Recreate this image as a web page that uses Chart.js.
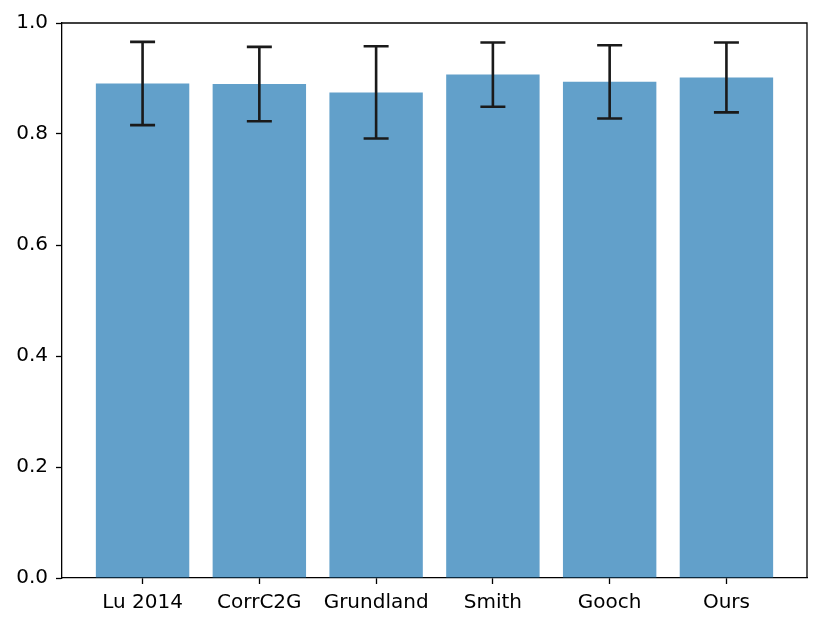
<!DOCTYPE html>
<html>
<head>
<meta charset="utf-8">
<script src="https://cdn.jsdelivr.net/npm/chart.js@4/dist/chart.umd.min.js"></script>
<style>
  body { margin: 0; background: #fff; }
</style>
</head>
<body>
<canvas id="chart" width="830" height="628"></canvas>
<script>
// values
var categories = ["Lu 2014", "CorrC2G", "Grundland", "Smith", "Gooch", "Ours"];
var means = [0.891, 0.890, 0.875, 0.907, 0.894, 0.902];
var errors = [0.075, 0.067, 0.083, 0.058, 0.066, 0.063];
var yTicks = [0.0, 0.2, 0.4, 0.6, 0.8, 1.0];

var points = [];
for (var i = 0; i < means.length; i++)
	points.push({ x: i, y: means[i] });

// error bars + the top/right frame lines
var errorBars = {
	id: "errorBars",
	afterDatasetsDraw: function (chart) {
		var ctx = chart.ctx;
		var xs = chart.scales.x, ys = chart.scales.y;
		ctx.save();
		ctx.strokeStyle = "#1a1a1a";
		ctx.lineWidth = 2.6;
		for (var i = 0; i < means.length; i++) {
			var x = xs.getPixelForValue(i);
			var top = ys.getPixelForValue(means[i] + errors[i]);
			var bot = ys.getPixelForValue(means[i] - errors[i]);
			ctx.beginPath();
			ctx.moveTo(x, top); ctx.lineTo(x, bot);
			ctx.moveTo(x - 12.5, top); ctx.lineTo(x + 12.5, top);
			ctx.moveTo(x - 12.5, bot); ctx.lineTo(x + 12.5, bot);
			ctx.stroke();
		}
		var a = chart.chartArea;
		ctx.strokeStyle = "#000";
		ctx.lineWidth = 1.3;
		ctx.beginPath();
		ctx.moveTo(a.left, a.top); ctx.lineTo(a.right, a.top); ctx.lineTo(a.right, a.bottom);
		ctx.stroke();
		ctx.restore();
	}
};

var font = { family: "'DejaVu Sans', sans-serif", size: 20 };

new Chart(document.getElementById("chart"), {
	type: "bar",
	data: {
		datasets: [{
			data: points,
			backgroundColor: "rgba(31,119,180,0.7)",
			borderWidth: 0,
			categoryPercentage: 1.0,
			barPercentage: 0.8
		}]
	},
	options: {
		responsive: false,
		animation: false,
		layout: { padding: { top: 23, right: 23, left: 0, bottom: 0 } },
		plugins: { legend: { display: false }, tooltip: { enabled: false } },
		scales: {
			x: {
				type: "linear",
				min: -0.69,
				max: 5.69,
				offset: false,
				afterBuildTicks: function (scale) {
					scale.ticks = categories.map(function (c, i) { return { value: i }; });
				},
				afterFit: function (scale) { scale.height = 50; },
				border: { color: "#000", width: 1.3 },
				grid: { offset: false, drawOnChartArea: false, tickLength: 6, color: "#000", tickWidth: 1.3 },
				ticks: {
					autoSkip: false,
					maxRotation: 0,
					padding: 7,
					color: "#000",
					font: font,
					callback: function (v) { return categories[v]; }
				}
			},
			y: {
				min: 0,
				max: 1,
				afterBuildTicks: function (scale) {
					scale.ticks = yTicks.map(function (v) { return { value: v }; });
				},
				afterFit: function (scale) { scale.width = 62; },
				border: { color: "#000", width: 1.3 },
				grid: { drawOnChartArea: false, tickLength: 6, color: "#000", tickWidth: 1.3 },
				ticks: {
					padding: 8,
					color: "#000",
					font: font,
					callback: function (v) { return v.toFixed(1); }
				}
			}
		}
	},
	plugins: [errorBars]
});
</script>
</body>
</html>
